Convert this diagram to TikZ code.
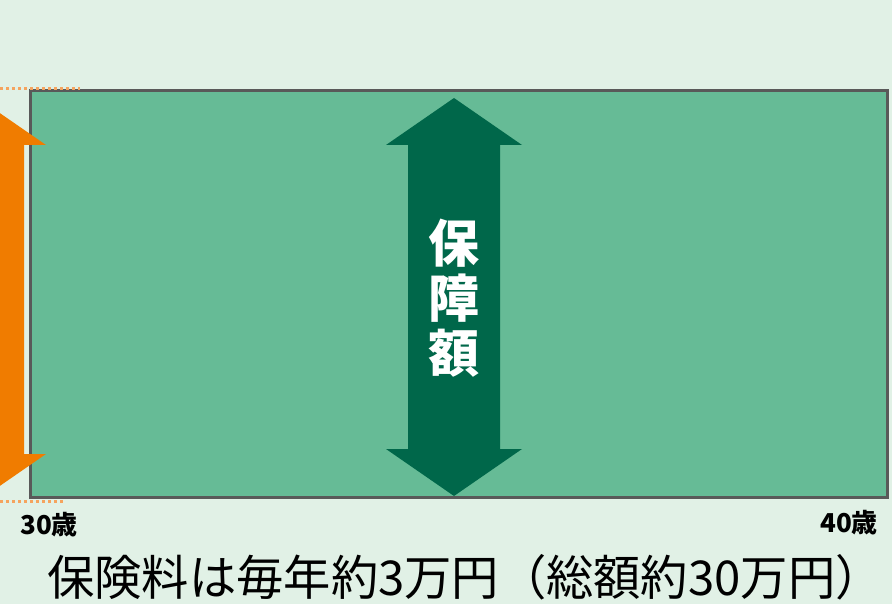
\documentclass[tikz,border=0pt]{standalone}
\usepackage{fontspec}
\newfontfamily\jpfont{Noto Sans CJK JP}
\definecolor{nen}{HTML}{E1F1E6}
\definecolor{khung}{HTML}{66BB96}
\definecolor{vien}{HTML}{595959}
\definecolor{xanh}{HTML}{00674A}
\definecolor{cam}{HTML}{F07C00}
\definecolor{camnhat}{HTML}{F5A45E}
\begin{document}
\begin{tikzpicture}[x=1pt, y=-1pt, font=\jpfont, line join=miter]
	%Kich thuoc.
	\def\W{892};\def\H{604};
	\def\hw{68};\def\sw{46};\def\hh{47};
	%Nen.
	\fill[nen] (0,0) rectangle (\W,\H);
	\useasboundingbox (0,0) rectangle (\W,\H);
	%Khung bao hiem.
	\coordinate (A) at (30,91);
	\coordinate (B) at (887,497);
	\draw[vien, line width=3pt, fill=khung] (A) rectangle (B);
	%Mui ten hai dau.
	\newcommand{\muiten}[4]{%
		\fill[#4] (#1,#2) -- ({#1+\hw},{#2+\hh}) -- ({#1+\sw},{#2+\hh})
			-- ({#1+\sw},{#3-\hh}) -- ({#1+\hw},{#3-\hh}) -- (#1,#3)
			-- ({#1-\hw},{#3-\hh}) -- ({#1-\sw},{#3-\hh})
			-- ({#1-\sw},{#2+\hh}) -- ({#1-\hw},{#2+\hh}) -- cycle;}
	\muiten{454}{98}{496}{xanh}
	\muiten{-22}{98}{501}{cam}
	%Duong cham.
	\draw[camnhat, line width=3pt, dash pattern=on 3pt off 3pt] (0,89) -- (80,89);
	\draw[camnhat, line width=3pt, dash pattern=on 3pt off 3pt] (0,501) -- (63,501);
	%Nhan.
	\node[text=white, font=\jpfont\bfseries\fontsize{51}{55}\selectfont, align=center] (hosho) at (454,298) {保\\障\\額};
	\node[font=\jpfont\bfseries\fontsize{26}{28}\selectfont] (tuoi30) at (49,525) {30歳};
	\node[font=\jpfont\bfseries\fontsize{26}{28}\selectfont] (tuoi40) at (849,523) {40歳};
	\node[font=\jpfont\fontsize{48}{52}\selectfont, inner sep=0pt, xscale=0.985] (phi) at (465,577) {保険料は毎年約3万円（総額約30万円）};
\end{tikzpicture}
\end{document}
